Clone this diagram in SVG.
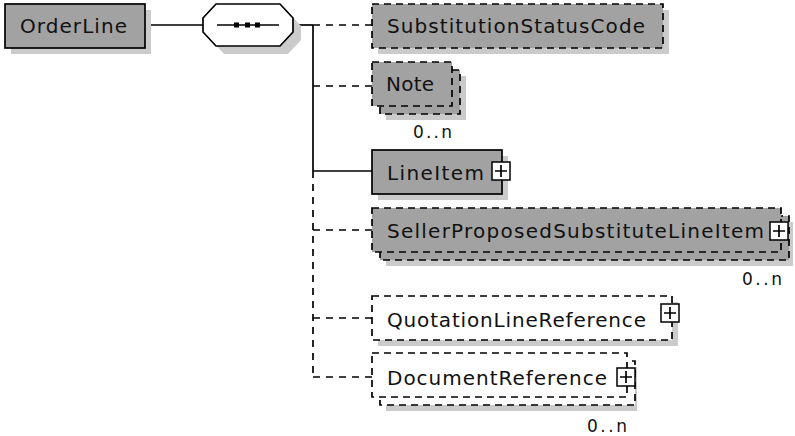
<svg xmlns="http://www.w3.org/2000/svg" width="795" height="436" viewBox="0 0 795 436">
<style>
.shadow{fill:#cbcbcb;stroke:none}
.solid{fill:#a2a2a2;stroke:#000;stroke-width:1.7}
.opt{fill:#a2a2a2;stroke:#000;stroke-width:1.7;stroke-dasharray:7 5}
.optw{fill:#fff;stroke:#000;stroke-width:1.7;stroke-dasharray:7 5}
.lbl{font-family:"DejaVu Sans","Liberation Sans",sans-serif;font-size:20px;fill:#111}
.occ{font-family:"DejaVu Sans","Liberation Sans",sans-serif;font-size:17px;fill:#111}
.ln{fill:none;stroke:#000;stroke-width:1.7}
.dl{fill:none;stroke:#000;stroke-width:1.7;stroke-dasharray:7 6}
.plusbox{fill:#fff;stroke:#000;stroke-width:1.5}
</style>
<defs>
<g id="plus">
<rect class="plusbox" x="0" y="0" width="18" height="18"/>
<path d="M9 3V15M3 9H15" stroke="#000" stroke-width="1.7"/>
</g>
</defs>

<g id="connectors">
<line class="ln" x1="145" y1="25" x2="203" y2="25"/>
<line class="ln" x1="293" y1="25" x2="313" y2="25"/>
<line class="ln" x1="313" y1="25" x2="313" y2="171"/>
<line class="dl" x1="313" y1="171" x2="313" y2="378"/>
<line class="dl" x1="313" y1="25" x2="372" y2="25"/>
<line class="dl" x1="313" y1="86" x2="372" y2="86"/>
<line class="ln" x1="313" y1="171" x2="372" y2="171"/>
<line class="dl" x1="313" y1="230" x2="372" y2="230"/>
<line class="dl" x1="313" y1="318" x2="372" y2="318"/>
<line class="dl" x1="313" y1="377" x2="372" y2="377"/>
</g>

<g id="OrderLine">
<rect class="shadow" x="11" y="10" width="140" height="44"/>
<rect class="solid" x="5" y="4" width="140" height="44"/>
<text class="lbl" x="20" y="33" textLength="107" lengthAdjust="spacing">OrderLine</text>
</g>

<g id="sequence">
<polygon class="shadow" points="224,12 288,12 301,26 301,40 288,54 224,54 211,40 211,26"/>
<polygon fill="#fff" stroke="#000" stroke-width="1.7" points="216,4 280,4 293,18 293,32 280,46 216,46 203,32 203,18"/>
<line class="ln" x1="217" y1="25" x2="279" y2="25"/>
<rect x="234" y="22.5" width="5" height="5" fill="#000"/>
<rect x="245" y="22.5" width="5" height="5" fill="#000"/>
<rect x="255" y="22.5" width="5" height="5" fill="#000"/>
</g>

<g id="SubstitutionStatusCode">
<rect class="shadow" x="378" y="10" width="291" height="44"/>
<rect class="opt" x="372" y="4" width="291" height="44"/>
<text class="lbl" x="387" y="33" textLength="258" lengthAdjust="spacing">SubstitutionStatusCode</text>
</g>

<g id="Note">
<rect class="shadow" x="386" y="76" width="80" height="44"/>
<rect class="opt" x="380" y="70" width="80" height="44"/>
<rect class="opt" x="372" y="62" width="80" height="44"/>
<text class="lbl" x="386" y="91" textLength="48" lengthAdjust="spacing">Note</text>
<text class="occ" x="413" y="138" textLength="39" lengthAdjust="spacing">0..n</text>
</g>

<g id="LineItem">
<rect class="shadow" x="378" y="156" width="130" height="44"/>
<rect class="solid" x="372" y="150" width="130" height="44"/>
<text class="lbl" x="387" y="180" textLength="97" lengthAdjust="spacing">LineItem</text>
<use href="#plus" x="492" y="162"/>
</g>

<g id="SellerProposedSubstituteLineItem">
<rect class="shadow" x="386" y="222" width="407" height="44"/>
<rect class="opt" x="380" y="216" width="409" height="44"/>
<rect class="opt" x="372" y="208" width="409" height="44"/>
<text class="lbl" x="387" y="238" textLength="377" lengthAdjust="spacing">SellerProposedSubstituteLineItem</text>
<use href="#plus" x="770" y="222"/>
<text class="occ" x="742" y="285" textLength="40" lengthAdjust="spacing">0..n</text>
</g>

<g id="QuotationLineReference">
<rect class="shadow" x="378" y="302" width="300" height="44"/>
<rect class="optw" x="372" y="296" width="300" height="44"/>
<text class="lbl" x="387" y="327" textLength="259" lengthAdjust="spacing">QuotationLineReference</text>
<use href="#plus" x="661" y="304"/>
</g>

<g id="DocumentReference">
<rect class="shadow" x="386" y="367" width="251" height="44"/>
<rect class="optw" x="380" y="361" width="255" height="44"/>
<rect class="optw" x="372" y="353" width="255" height="44"/>
<text class="lbl" x="387" y="385" textLength="220" lengthAdjust="spacing">DocumentReference</text>
<use href="#plus" x="617" y="368"/>
<text class="occ" x="587" y="432" textLength="40" lengthAdjust="spacing">0..n</text>
</g>
</svg>
